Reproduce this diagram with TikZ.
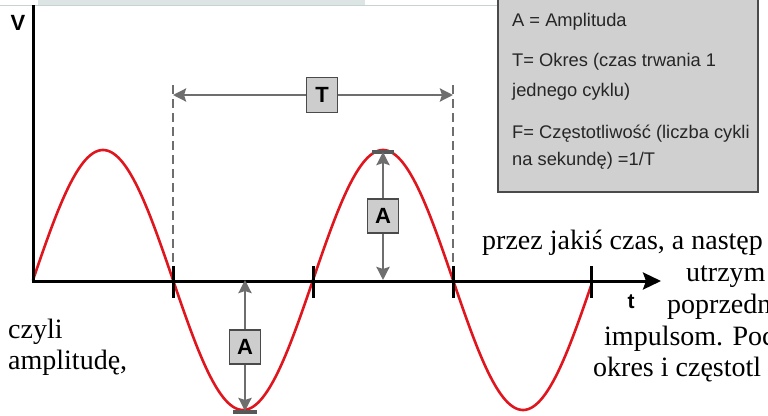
\documentclass[tikz,border=0pt]{standalone}
\usepackage{fontspec}
\setmainfont{Liberation Serif}
\newfontfamily\arialf{Liberation Sans}
\usetikzlibrary{arrows.meta}
\definecolor{wave}{HTML}{E0161E}
\definecolor{dimgray}{HTML}{6E6E6E}
\definecolor{boxfill}{HTML}{CDCDCD}
\definecolor{boxline}{HTML}{4A4A4A}
\definecolor{legfill}{HTML}{D0D0D0}
\definecolor{topband}{HTML}{DCE4E4}
\definecolor{topline}{HTML}{C9D2D2}
\tikzset{
  axisline/.style={line width=3pt, black},
  tickline/.style={line width=3pt, black},
  dimline/.style={line width=2.6pt, dimgray, {Stealth[length=13pt,width=13pt,inset=2pt]}-{Stealth[length=13pt,width=13pt,inset=2pt]}},
  guide/.style={line width=2pt, dimgray, dash pattern=on 9pt off 5pt},
  letterbox/.style={draw=boxline, line width=1.2pt, fill=boxfill, minimum width=31pt, minimum height=34pt, inner sep=0pt, font=\arialf\bfseries\fontsize{22}{22}\selectfont},
  legtext/.style={anchor=base west, inner sep=0pt, font=\arialf\fontsize{18.3}{20}\selectfont, text=black!85},
  serif/.style={anchor=base west, inner sep=0pt, font=\fontsize{28}{32}\selectfont},
  axlabel/.style={inner sep=0pt, font=\arialf\bfseries\fontsize{22}{22}\selectfont},
  bar/.style={line width=3.5pt, dimgray!80!black}
}
\begin{document}
\begin{tikzpicture}[x=1pt,y=-1pt]
\useasboundingbox (0,0) rectangle (768,415);
\begin{scope}
\clip (0,0) rectangle (768,415);
% top strip (cut-off page text)
\fill[topband] (38,0) rectangle (365,5);
\draw[topline, line width=0.8pt] (0,5) -- (498,5);
% legend
\node[draw=boxline, line width=1.4pt, fill=legfill, minimum width=260pt, minimum height=196pt, inner sep=0pt] (legend) at (628,94) {};
\node[legtext] (l1) at (512,26) {A = Amplituda};
\node[legtext] (l2) at (512,66) {T= Okres (czas trwania 1};
\node[legtext] (l3) at (512,96) {jednego cyklu)};
\node[legtext] (l4) at (512,138) {F= Częstotliwość (liczba cykli};
\node[legtext] (l5) at (512,165) {na sekundę) =1/T};
% guides
\coordinate (g1t) at (173,85);
\coordinate (g1b) at (173,280);
\coordinate (g2t) at (453,85);
\coordinate (g2b) at (453,280);
\draw[guide] (g1t) -- (g1b);
\draw[guide] (g2t) -- (g2b);
% wave
\draw[wave, line width=2.6pt, line cap=round] plot[domain=33:591, samples=300, smooth] (\x,{280-130*sin((\x-33)*1.2857143)});
% axes
\coordinate (o) at (33,281);
\coordinate (ytop) at (33,5);
\coordinate (xend) at (661,281);
\draw[axisline] (ytop) -- (o);
\draw[axisline, -{Stealth[length=18pt,width=17pt,inset=3pt]}] ([xshift=-1.5pt]o) -- (xend);
\node[axlabel] (V) at (18,23) {V};
\node[axlabel, font=\arialf\bfseries\fontsize{21}{21}\selectfont] (t) at (631,302) {t};
% ticks
\foreach \tx/\nm in {173/k1,313/k2,453/k3,591/k4}{
  \coordinate (\nm a) at (\tx,266);
  \coordinate (\nm b) at (\tx,298);
  \draw[tickline] (\nm a) -- (\nm b);
}
% T dimension
\coordinate (tl) at (173,95);
\coordinate (tr) at (453,95);
\draw[dimline] (tl) -- (tr);
\node[letterbox, minimum height=35pt] (Tb) at (322,95) {T};
% A dimension (upper)
\coordinate (p1) at (383,152);
\coordinate (p1b) at (383,280);
\draw[bar] (372,152) -- (394,152);
\draw[dimline] (p1b) -- (p1);
\node[letterbox] (A1) at (383,216) {A};
% A dimension (lower)
\coordinate (p2) at (245,280);
\coordinate (p2b) at (245,411);
\draw[bar] (233,412) -- (257,412);
\draw[dimline] (p2) -- (p2b);
\node[letterbox] (A2) at (245,347) {A};
% surrounding page text
\node[serif] (s1) at (482,249) {przez jakiś czas, a następ};
\node[serif] (s2) at (686,281) {utrzym};
\node[serif] (s3) at (667,313) {poprzedn};
\node[serif] (s4) at (604,345) {impulsom. Poc};
\node[serif] (s5) at (593,376) {okres i częstotl};
\node[serif] (s6) at (8,338) {czyli};
\node[serif] (s7) at (8,369) {amplitudę,};
\end{scope}
\end{tikzpicture}
\end{document}
